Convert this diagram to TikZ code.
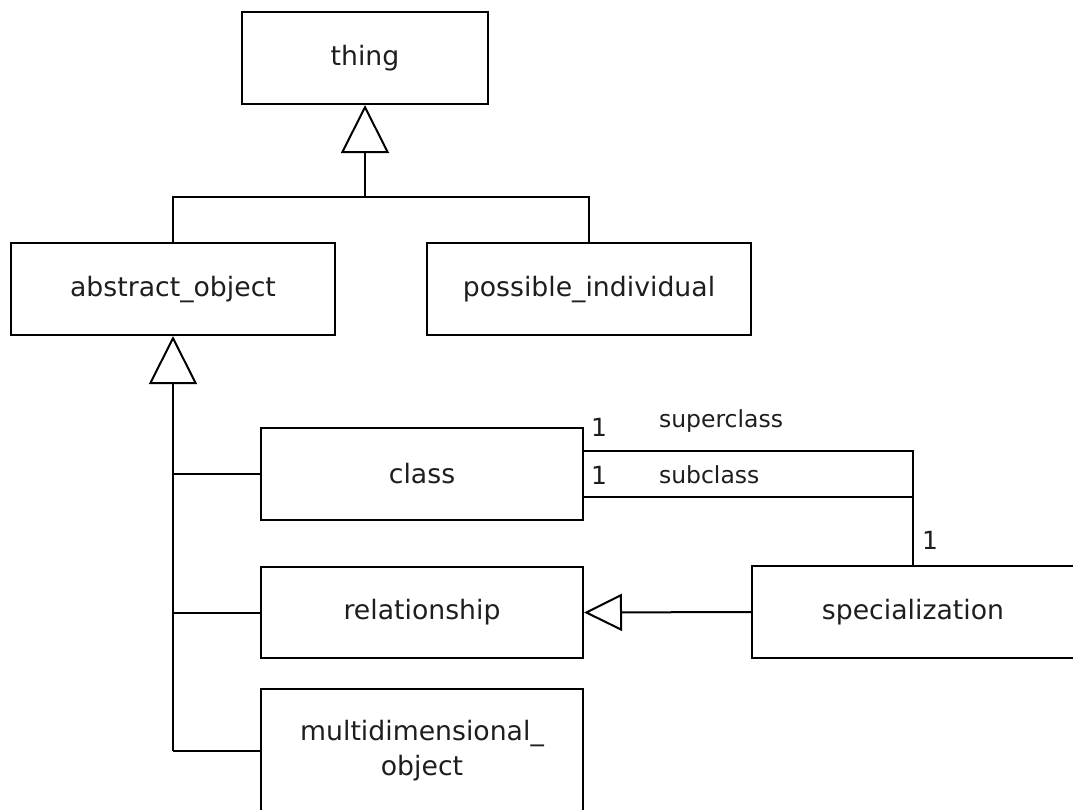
\documentclass[tikz,border=0pt]{standalone}
\usepackage{fontspec}
\setmainfont{DejaVu Sans}
\usetikzlibrary{arrows.meta}
\definecolor{ink}{HTML}{1E1E1E}
\begin{document}
\begin{tikzpicture}[x=1pt,y=-1pt,
  line width=2pt,
  umlclass/.style={draw=black, rectangle, minimum width=322pt, minimum height=92pt,
    inner sep=0pt, align=center, text=ink,
    font=\fontsize{26.7}{35}\selectfont},
  inherit/.style={-{Triangle[open,length=48pt,width=48pt,line width=2pt]}},
  inheritsmall/.style={-{Triangle[open,length=38pt,width=37pt,line width=2pt]}},
  mult/.style={text=ink, font=\fontsize{25}{30}\selectfont, inner sep=0pt},
  role/.style={text=ink, font=\fontsize{23.5}{28}\selectfont, inner sep=0pt}]
\useasboundingbox (0,0) rectangle (1073,809);
\clip (0,0) rectangle (1073,809);

% classes
\node[umlclass, minimum width=246pt] (thing) at (365,58) {thing};
\node[umlclass, minimum width=324pt] (abstract) at (173,289) {abstract\_object};
\node[umlclass, minimum width=324pt] (possible) at (589,289) {possible\_individual};
\node[umlclass] (class) at (422,474) {class};
\node[umlclass, minimum height=91pt] (rel) at (422,612.5) {relationship};
\node[umlclass, minimum height=124pt] (multi) at (422,751) {multidimensional\_\\object};
\node[umlclass, minimum height=92pt] (spec) at (913,612) {specialization};

% generalisation of thing
\coordinate (j1) at (365,197);
\draw (abstract.north) |- (j1) -| (possible.north);
\draw[inherit] (j1) -- (thing.south);

% generalisation of abstract_object
\coordinate (t2) at (abstract.south |- multi.west);
\draw[inherit] (t2) -- (abstract.south);
\draw (class.west) -- (class.west -| t2);
\draw (rel.west) -- (rel.west -| t2);
\draw (multi.west) -- (t2);

% specialization is a relationship
\draw[inheritsmall] (spec.west) -- (rel.east);

% superclass / subclass associations
\draw ([yshift=23pt]class.east) -| (spec.north);
\draw ([yshift=-23pt]class.east) -- ([yshift=-23pt]class.east -| spec.north);

% association labels
\node[mult] (m1) at (599,427) {1};
\node[mult] (m2) at (599,475) {1};
\node[mult] (m3) at (930,540) {1};
\node[role, anchor=west] (sup) at (658,421) {superclass};
\node[role, anchor=west] (sub) at (658,475) {subclass};
\end{tikzpicture}
\end{document}
